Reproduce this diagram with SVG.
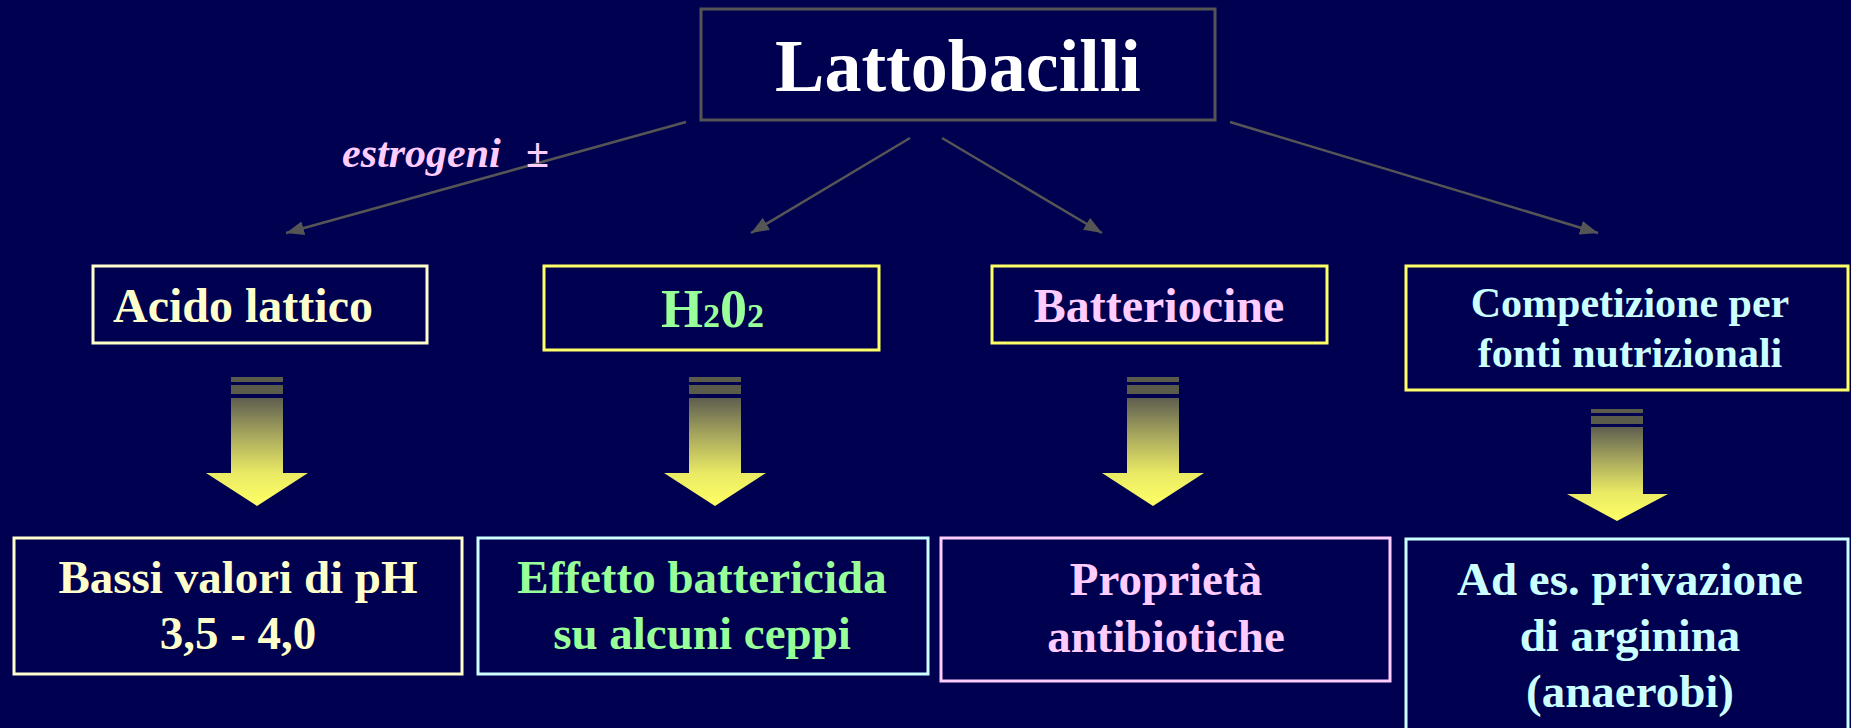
<svg xmlns="http://www.w3.org/2000/svg" width="1851" height="728" viewBox="0 0 1851 728">
<style>
.t{font-family:"Liberation Serif","Times New Roman","DejaVu Serif",serif;font-weight:bold}
.box{fill:#000050;stroke-width:3}
.conn{stroke:#555555;stroke-width:2.5;fill:none}
.stripe{fill:#5b5b4c}
.big{fill:url(#ag)}
</style>
<defs>
<linearGradient id="ag" x1="0" y1="0" x2="0" y2="1">
<stop offset="0" stop-color="#5e5e50"/>
<stop offset="0.35" stop-color="#a8a85e"/>
<stop offset="0.7" stop-color="#eaea64"/>
<stop offset="1" stop-color="#ffff66"/>
</linearGradient>
<marker id="ah" markerUnits="userSpaceOnUse" markerWidth="18" markerHeight="14" refX="18" refY="7" orient="auto">
<path d="M0,0 L18,7 L0,14 Z" fill="#555555"/>
</marker>
</defs>
<rect width="1851" height="728" fill="#000050"/>

<g id="connectors">
<line class="conn" x1="686" y1="122" x2="286" y2="233" marker-end="url(#ah)"/>
<line class="conn" x1="910" y1="138" x2="751" y2="233" marker-end="url(#ah)"/>
<line class="conn" x1="942" y1="138" x2="1102" y2="233" marker-end="url(#ah)"/>
<line class="conn" x1="1230" y1="122" x2="1598" y2="233" marker-end="url(#ah)"/>
<text class="t" font-style="italic" font-size="42" fill="#ffccff" x="342" y="167">estrogeni<tspan x="526" font-style="normal" font-size="42">±</tspan></text>
</g>

<g id="lattobacilli">
<rect x="701" y="9" width="514" height="111" fill="#000050" stroke="#555555" stroke-width="3"/>
<text class="t" font-size="74" fill="#ffffff" x="958" y="91" text-anchor="middle">Lattobacilli</text>
</g>

<g id="acido">
<rect class="box" x="93" y="266" width="334" height="77" stroke="#ffffcc"/>
<text class="t" font-size="48" fill="#ffffcc" x="113" y="322">Acido lattico</text>
</g>
<g id="h2o2">
<rect class="box" x="544" y="266" width="335" height="84" stroke="#ffff66"/>
<text class="t" font-size="54" fill="#99ff99" x="661" y="327">H<tspan font-size="34">2</tspan>0<tspan font-size="34">2</tspan></text>
</g>
<g id="batteriocine">
<rect class="box" x="992" y="266" width="335" height="77" stroke="#ffff66"/>
<text class="t" font-size="48" fill="#ffccff" x="1159" y="322" text-anchor="middle">Batteriocine</text>
</g>
<g id="competizione">
<rect class="box" x="1406" y="266" width="442" height="124" stroke="#ffff66"/>
<text class="t" font-size="42" fill="#ccffff" x="1630" y="317" text-anchor="middle">Competizione per</text>
<text class="t" font-size="42" fill="#ccffff" x="1630" y="367" text-anchor="middle">fonti nutrizionali</text>
</g>

<g id="arrow1">
<rect class="stripe" x="231" y="377" width="52" height="5"/>
<rect class="stripe" x="231" y="385" width="52" height="9"/>
<path class="big" d="M231,398 H283 V473 H308 L257,506 L206,473 H231 Z"/>
</g>
<g id="arrow2">
<rect class="stripe" x="689" y="377" width="52" height="5"/>
<rect class="stripe" x="689" y="385" width="52" height="9"/>
<path class="big" d="M689,398 H741 V473 H766 L715,506 L664,473 H689 Z"/>
</g>
<g id="arrow3">
<rect class="stripe" x="1127" y="377" width="52" height="5"/>
<rect class="stripe" x="1127" y="385" width="52" height="9"/>
<path class="big" d="M1127,398 H1179 V473 H1204 L1153,506 L1102,473 H1127 Z"/>
</g>
<g id="arrow4">
<rect class="stripe" x="1591" y="409" width="52" height="4"/>
<rect class="stripe" x="1591" y="416" width="52" height="8"/>
<path class="big" d="M1591,427 H1643 V494 H1668 L1617,521 L1567,494 H1591 Z"/>
</g>

<g id="bassi">
<rect class="box" x="14" y="538" width="448" height="136" stroke="#ffffcc"/>
<text class="t" font-size="47" fill="#ffffcc" x="238" y="593" text-anchor="middle">Bassi valori di pH</text>
<text class="t" font-size="47" fill="#ffffcc" x="238" y="649" text-anchor="middle">3,5 - 4,0</text>
</g>
<g id="effetto">
<rect class="box" x="478" y="538" width="450" height="136" stroke="#ccffff"/>
<text class="t" font-size="47" fill="#99ff99" x="702" y="593" text-anchor="middle">Effetto battericida</text>
<text class="t" font-size="47" fill="#99ff99" x="702" y="649" text-anchor="middle">su alcuni ceppi</text>
</g>
<g id="proprieta">
<rect class="box" x="941" y="538" width="449" height="143" stroke="#ffccff"/>
<text class="t" font-size="47" fill="#ffccff" x="1166" y="595" text-anchor="middle">Proprietà</text>
<text class="t" font-size="47" fill="#ffccff" x="1166" y="652" text-anchor="middle">antibiotiche</text>
</g>
<g id="privazione">
<rect class="box" x="1406" y="539" width="442" height="200" stroke="#ccffff"/>
<text class="t" font-size="47" fill="#ccffff" x="1630" y="595" text-anchor="middle">Ad es. privazione</text>
<text class="t" font-size="47" fill="#ccffff" x="1630" y="651" text-anchor="middle">di arginina</text>
<text class="t" font-size="47" fill="#ccffff" x="1630" y="707" text-anchor="middle">(anaerobi)</text>
</g>
</svg>
